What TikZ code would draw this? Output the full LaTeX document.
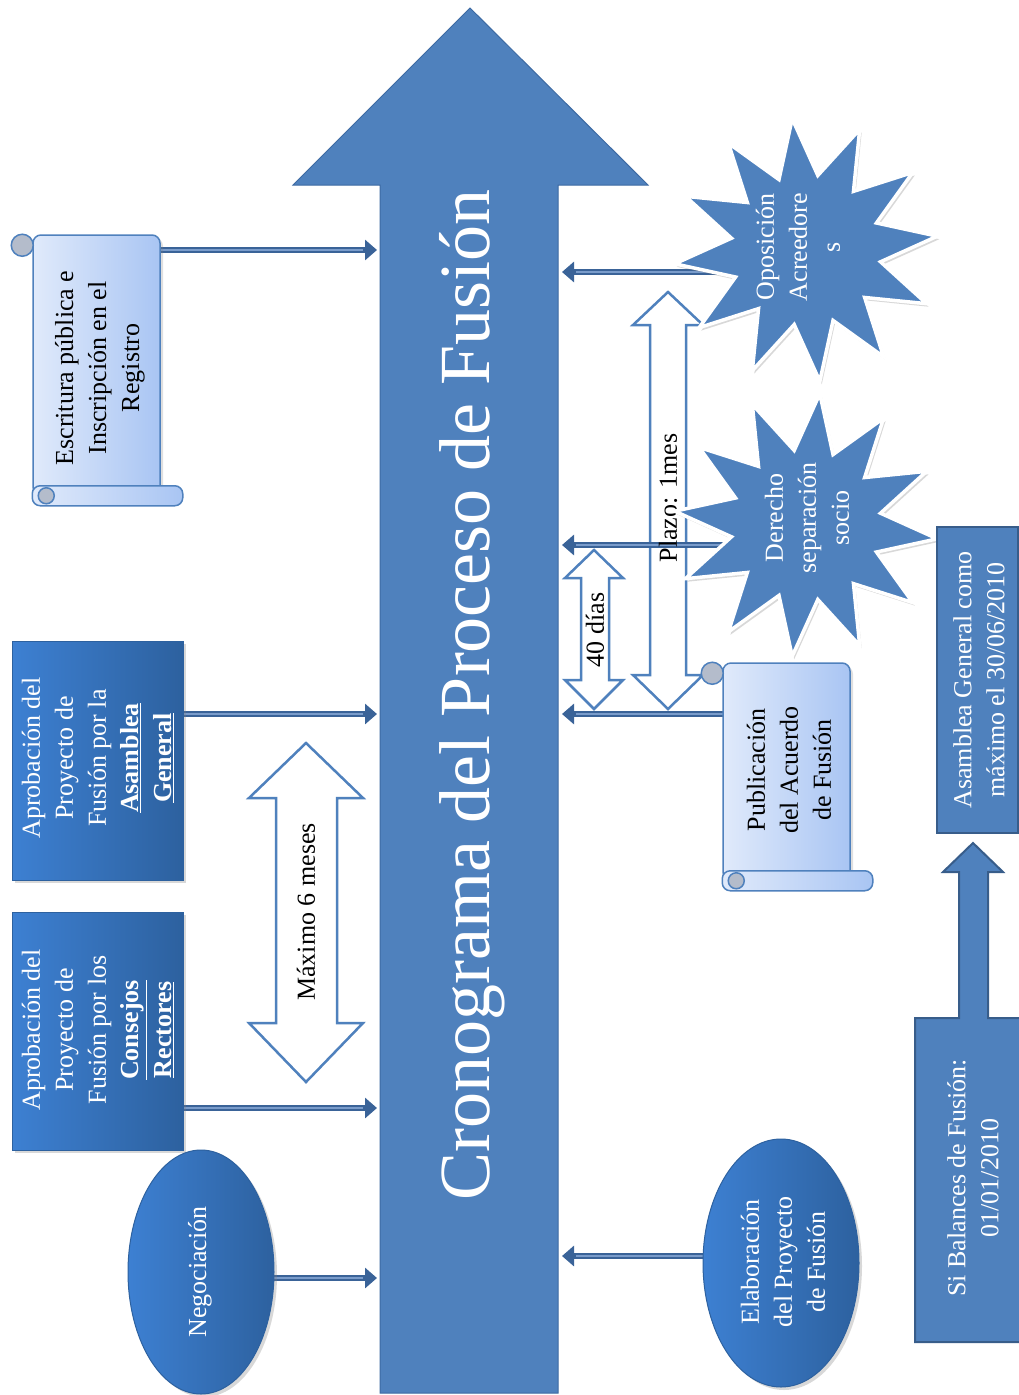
\documentclass[tikz,border=0pt]{standalone}
\usepackage{fontspec}
\setmainfont{Liberation Serif}
\usetikzlibrary{shapes.geometric,arrows.meta,shadows,calc}
\pgfdeclarelayer{bg}
\pgfdeclarelayer{mid}
\pgfsetlayers{bg,mid,main}
\definecolor{cmain}{HTML}{4F81BD}
\definecolor{cedge}{HTML}{3D6AA3}
\definecolor{cconn}{HTML}{3A6398}
\definecolor{cconnl}{HTML}{7A9CCB}
\definecolor{cboxl}{HTML}{3D80D2}
\definecolor{cboxr}{HTML}{2D619F}
\definecolor{cscl}{HTML}{E0EAFB}
\definecolor{cscr}{HTML}{A9C5F3}
\definecolor{ccurl}{HTML}{B4BCCB}
\definecolor{cdark}{HTML}{385D8A}
\begin{document}
\begin{tikzpicture}[x=1pt,y=-1pt,
  conn/.style={draw=cconn, line width=6.5pt, -{Triangle[length=12pt,width=20pt]},
    postaction={draw=cconnl, line width=1.5pt, shorten >=14pt, arrows=-}},
  bigarrow/.style={fill=cmain, draw=cedge, line width=1pt},
  oarrow/.style={fill=white, draw=cmain, line width=2.5pt, line join=miter},
  lbl/.style={rotate=90, align=center, font=\fontsize{26}{33}\selectfont, inner sep=0pt},
  scrollbody/.style={draw=cmain, line width=1.5pt, left color=cscl, right color=cscr, rounded corners=8pt},
  curl/.style={draw=cmain, line width=1.5pt, fill=ccurl},
  dbox/.style={rectangle, left color=cboxl, right color=cboxr, draw=cboxr, line width=0.8pt,
    drop shadow={opacity=0.3, shadow xshift=3pt, shadow yshift=-3pt}},
  ell/.style={ellipse, left color=cboxl, right color=cboxr, draw=cboxr, line width=1pt,
    drop shadow={opacity=0.3, shadow xshift=3pt, shadow yshift=-3pt}},
  burst/.style={star, star points=12, star point ratio=1.75, minimum size=264pt, fill=cmain,
    draw=white, line width=3.5pt, drop shadow={opacity=0.3, shadow xshift=2pt, shadow yshift=-3pt}},
  fbox/.style={rectangle, fill=cmain, draw=cdark, line width=2pt},
]
\useasboundingbox (0,0) rectangle (1019,1395);
\begin{pgfonlayer}{bg}
\fill[white] (0,0) rectangle (1019,1395);
\draw[bigarrow] (380,1393) -- (380,185) -- (293,185) -- (470,8) -- (648,185) -- (558,185) -- (558,1393) -- cycle;
\draw[oarrow] (306,743) -- (363,798) -- (337,798) -- (337,1023) -- (363,1023) -- (306,1082) -- (249,1023) -- (276,1023) -- (276,798) -- (249,798) -- cycle;
\draw[oarrow] (668,292) -- (703,325) -- (686,325) -- (686,675) -- (703,675) -- (668,709) -- (633,675) -- (650,675) -- (650,325) -- (633,325) -- cycle;
\draw[oarrow] (594,550) -- (623,578) -- (609,578) -- (609,680) -- (623,680) -- (594,709) -- (565,680) -- (581,680) -- (581,578) -- (565,578) -- cycle;
\end{pgfonlayer}

\coordinate (sL1) at (377,250);
\coordinate (sL2) at (377,714);
\coordinate (sL3) at (377,1108);
\coordinate (sL4) at (377,1278);
\coordinate (sR1) at (562,272);
\coordinate (sR2) at (562,545);
\coordinate (sR3) at (562,714);
\coordinate (sR4) at (562,1256);

\node[rotate=90, text=white, font=\fontsize{72}{80}\selectfont, inner sep=0pt] (title) at (472,695) {Cronograma del Proceso de Fusión};

% open arrow labels
\node[lbl] (maxT) at (306,912) {Máximo 6 meses};
\node[lbl] (plzT) at (668,498) {Plazo: 1mes};
\node[lbl] (diasT) at (595,630) {40 días};

% scroll: Escritura
\node[scrollbody, minimum width=127pt, minimum height=260pt,
  drop shadow={opacity=0.25, shadow xshift=3pt, shadow yshift=-3pt}] (esc) at (96.5,365) {};
\draw[scrollbody] ($(esc.south west)+(0,-10)$) rectangle ($(esc.south east)+(22,10)$);
\draw[curl] ($(esc.south west)+(14,0)$) circle[radius=8pt];
\draw[curl] ($(esc.north west)+(-10,11)$) circle[radius=11pt];
\node[lbl] (escT) at (100,368) {Escritura pública e\\Inscripción en el\\Registro};

% scroll: Publicacion
\node[scrollbody, minimum width=127pt, minimum height=217pt,
  drop shadow={opacity=0.25, shadow xshift=3pt, shadow yshift=-3pt}] (pub) at (786.5,771.5) {};
\draw[scrollbody] ($(pub.south west)+(0,-10)$) rectangle ($(pub.south east)+(22,10)$);
\draw[curl] ($(pub.south west)+(14,0)$) circle[radius=8pt];
\draw[curl] ($(pub.north west)+(-10,11)$) circle[radius=11pt];
\node[lbl] (pubT) at (789,770) {Publicación\\del Acuerdo\\de Fusión};

% dark boxes
\node[dbox, minimum width=171pt, minimum height=239pt] (asm) at (97.5,760.5) {};
\node[lbl, text=white] (asmT) at (98,758) {Aprobación del\\Proyecto de\\Fusión por la\\\underline{\textbf{Asamblea}}\\\underline{\textbf{General}}};
\node[dbox, minimum width=171pt, minimum height=238pt] (cons) at (97.5,1031) {};
\node[lbl, text=white] (consT) at (98,1030) {Aprobación del\\Proyecto de\\Fusión por los\\\underline{\textbf{Consejos}}\\\underline{\textbf{Rectores}}};

% ellipses
\node[ell, minimum width=146pt, minimum height=244pt] (neg) at (201,1272) {};
\node[lbl, text=white] (negT) at (200,1272) {Negociación};
\node[ell, minimum width=156pt, minimum height=248pt] (ela) at (781,1263) {};
\node[lbl, text=white] (elaT) at (783,1262) {Elaboración\\del Proyecto\\de Fusión};

% starbursts
\node[burst, shape border rotate=6] (opo) at (806,250) {};
\node[lbl, text=white] (opoT) at (798,247) {Oposición\\Acreedore\\s};
\node[burst, shape border rotate=-6] (der) at (806,525) {};
\node[lbl, text=white] (derT) at (807,518) {Derecho\\separación\\socio};

% date boxes
\node[fbox, minimum width=81pt, minimum height=306pt] (fec) at (977.5,680) {};
\node[lbl, text=white] (fecT) at (979,680) {Asamblea General como\\máximo el 30/06/2010};
\draw[fbox] (915,1342) -- (915,1018) -- (959,1018) -- (959,872) -- (943,872) -- (973,843) -- (1003,872) -- (988,872) -- (988,1018) -- (1024,1018) -- (1024,1342) -- cycle;
\node[lbl, text=white] (balT) at (973,1178) {Si Balances de Fusión:\\01/01/2010};

% connectors
\begin{pgfonlayer}{mid}
\draw[conn] (esc.center |- sL1) -- (sL1);
\draw[conn] (asm.center |- sL2) -- (sL2);
\draw[conn] (cons.center |- sL3) -- (sL3);
\draw[conn] (neg.center |- sL4) -- (sL4);
\draw[conn] (opo.center |- sR1) -- (sR1);
\draw[conn] (der.center |- sR2) -- (sR2);
\draw[conn] (pub.center |- sR3) -- (sR3);
\draw[conn] (ela.center |- sR4) -- (sR4);
\end{pgfonlayer}
\end{tikzpicture}
\end{document}
